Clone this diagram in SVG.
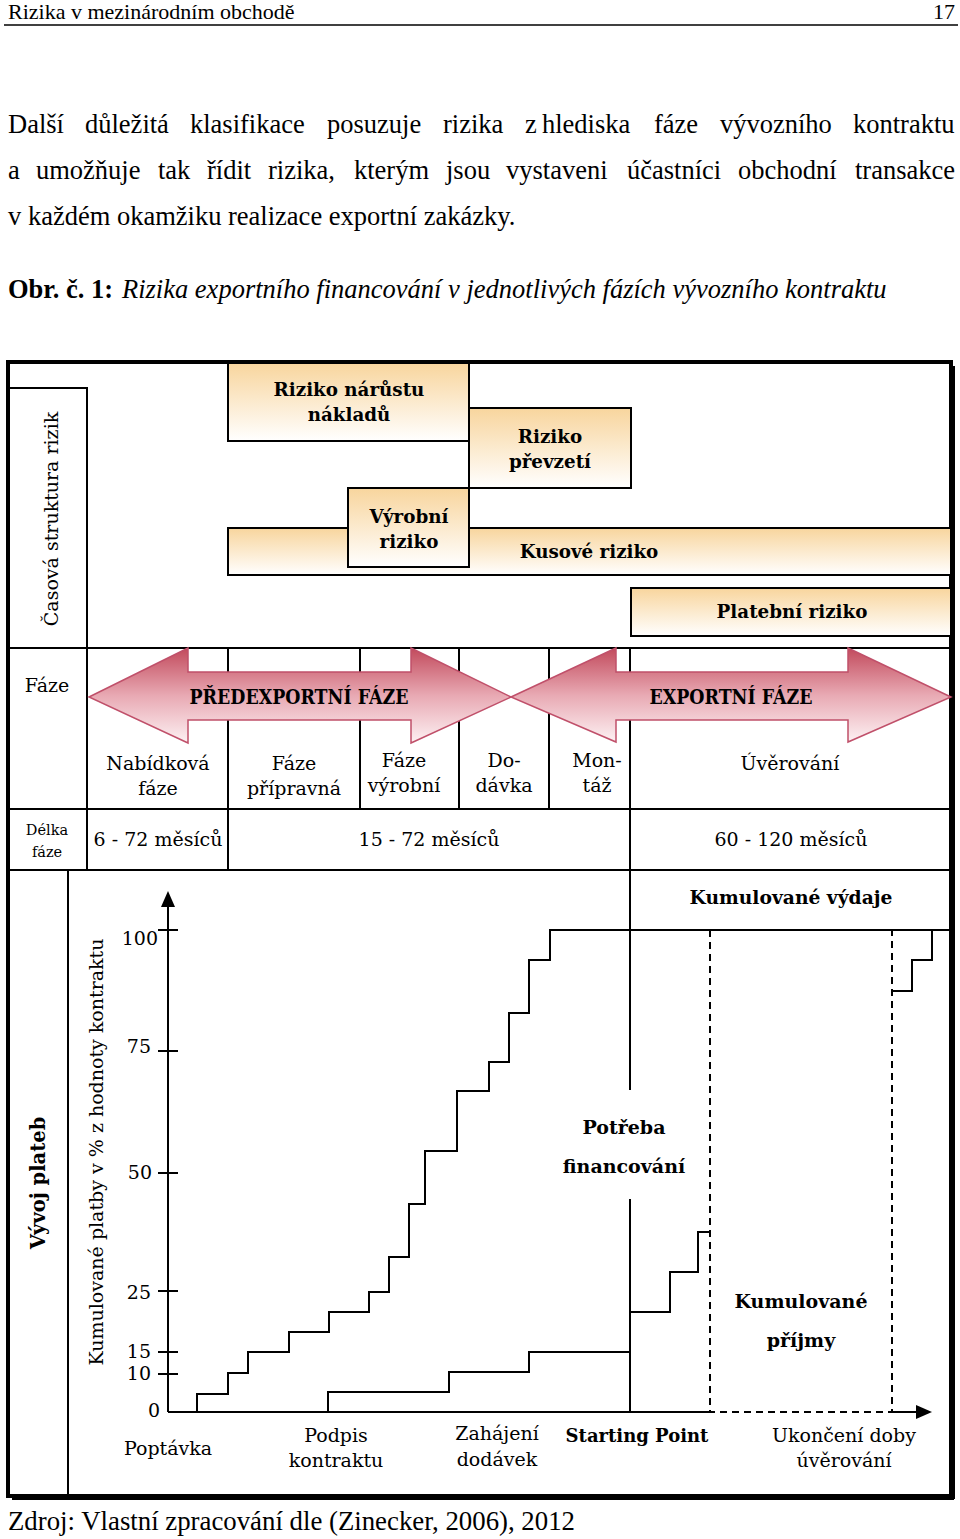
<svg xmlns="http://www.w3.org/2000/svg" width="960" height="1539" viewBox="0 0 960 1539">
<defs>
<linearGradient id="gOr" x1="0" y1="0" x2="0" y2="1">
<stop offset="0" stop-color="#f8d59d"/>
<stop offset="1" stop-color="#ffffff"/>
</linearGradient>
<linearGradient id="gRed" x1="0" y1="0" x2="0" y2="1">
<stop offset="0" stop-color="#c24a5c"/>
<stop offset="0.5" stop-color="#e8a9b3"/>
<stop offset="1" stop-color="#fdf1f3"/>
</linearGradient>
<style>
.pg{font-family:'Liberation Serif','Times New Roman',serif;fill:#000}
.d{font-family:'DejaVu Serif',serif;font-size:19px;fill:#000}
.b{font-weight:bold}
.bs{font-size:18.3px}
.as{font-size:19.5px}
.ls{font-size:19px}
.sm{font-size:14.5px}
.m{text-anchor:middle}
.e{text-anchor:end}
.ln{stroke:#000;stroke-width:2;fill:none}
.bx{fill:url(#gOr);stroke:#000;stroke-width:2}
.ar{fill:url(#gRed);stroke:#c0506a;stroke-width:1.5}
.dash{stroke:#000;stroke-width:2;fill:none;stroke-dasharray:7 5}
</style>
</defs>
<rect width="960" height="1539" fill="#fff"/>

<g id="page-header">
<text class="pg" x="8" y="19" font-size="22">Rizika v mezinárodním obchodě</text>
<text class="pg e" x="955" y="19" font-size="22">17</text>
<line x1="4" y1="25" x2="958" y2="25" stroke="#000" stroke-width="1.5"/>
</g>

<g id="paragraph" class="pg" font-size="26.5">
<text y="133"><tspan x="8">Další</tspan><tspan x="85">důležitá</tspan><tspan x="190">klasifikace</tspan><tspan x="327">posuzuje</tspan><tspan x="443">rizika</tspan><tspan x="525">z</tspan><tspan x="542">hlediska</tspan><tspan x="654">fáze</tspan><tspan x="720">vývozního</tspan><tspan x="853">kontraktu</tspan></text>
<text y="179"><tspan x="8">a</tspan><tspan x="36">umožňuje</tspan><tspan x="158">tak</tspan><tspan x="207">řídit</tspan><tspan x="268">rizika,</tspan><tspan x="354">kterým</tspan><tspan x="446">jsou</tspan><tspan x="506">vystaveni</tspan><tspan x="627">účastníci</tspan><tspan x="738">obchodní</tspan><tspan x="855">transakce</tspan></text>
<text x="8" y="225">v každém okamžiku realizace exportní zakázky.</text>
<text y="298"><tspan x="8" font-weight="bold">Obr. č. 1:</tspan><tspan x="122" font-style="italic">Rizika exportního financování v jednotlivých fázích vývozního kontraktu</tspan></text>
</g>

<g id="frame">
<line x1="12" y1="1499" x2="954" y2="1499" stroke="#000" stroke-width="2"/>
<line x1="954" y1="366" x2="954" y2="1499" stroke="#000" stroke-width="2"/>
<rect x="8" y="362" width="943" height="1134" fill="none" stroke="#000" stroke-width="4"/>
</g>

<g id="grid">
<path class="ln" d="M8,388 H87 V870"/>
<line class="ln" x1="8" y1="648" x2="951" y2="648"/>
<line class="ln" x1="8" y1="809" x2="951" y2="809"/>
<line class="ln" x1="8" y1="870" x2="951" y2="870"/>
<line class="ln" x1="228" y1="648" x2="228" y2="870"/>
<line class="ln" x1="360" y1="648" x2="360" y2="809"/>
<line class="ln" x1="459" y1="648" x2="459" y2="809"/>
<line class="ln" x1="549" y1="648" x2="549" y2="809"/>
<line class="ln" x1="630" y1="648" x2="630" y2="1090"/>
<line class="ln" x1="630" y1="1199" x2="630" y2="1412"/>
<line class="ln" x1="68" y1="870" x2="68" y2="1497"/>
</g>

<g id="label-casova">
<text class="d m" transform="rotate(-90 58 519)" x="58" y="519">Časová struktura rizik</text>
</g>

<g id="risk-naklady">
<rect class="bx" x="228" y="363" width="241" height="78"/>
<text class="d b bs m" x="349" y="396">Riziko nárůstu</text>
<text class="d b bs m" x="349" y="421">nákladů</text>
</g>
<g id="risk-prevzeti">
<rect class="bx" x="469" y="408" width="162" height="80"/>
<text class="d b bs m" x="550" y="443">Riziko</text>
<text class="d b bs m" x="550" y="468">převzetí</text>
</g>
<g id="risk-kusove">
<rect class="bx" x="228" y="528" width="723" height="47"/>
<text class="d b bs m" x="589" y="558">Kusové riziko</text>
</g>
<g id="risk-vyrobni">
<rect class="bx" x="348" y="488" width="121" height="79"/>
<text class="d b bs m" x="409" y="523">Výrobní</text>
<text class="d b bs m" x="409" y="548">riziko</text>
</g>
<g id="risk-platebni">
<rect class="bx" x="631" y="588" width="320" height="48"/>
<text class="d b bs m" x="792" y="618">Platební riziko</text>
</g>

<g id="row-faze">
<text class="d m" x="47" y="692">Fáze</text>
</g>
<g id="arrow-predexportni">
<polygon class="ar" points="89,697 188,648 188,672 411,672 411,648 511,697 411,743 411,720 188,720 188,743"/>
<text class="d b as m" x="299" y="704" textLength="219" lengthAdjust="spacingAndGlyphs">PŘEDEXPORTNÍ FÁZE</text>
</g>
<g id="arrow-exportni">
<polygon class="ar" points="511,697 616,648 616,672 848,672 848,648 951,697 848,742 848,720 616,720 616,742"/>
<text class="d b as m" x="731" y="704" textLength="163" lengthAdjust="spacingAndGlyphs">EXPORTNÍ FÁZE</text>
</g>

<g id="phases">
<text class="d m" x="158" y="770">Nabídková</text>
<text class="d m" x="158" y="795">fáze</text>
<text class="d m" x="294" y="770">Fáze</text>
<text class="d m" x="294" y="795">přípravná</text>
<text class="d m" x="404" y="767">Fáze</text>
<text class="d m" x="404" y="792">výrobní</text>
<text class="d m" x="504" y="767">Do-</text>
<text class="d m" x="504" y="792">dávka</text>
<text class="d m" x="597" y="767">Mon-</text>
<text class="d m" x="597" y="792">táž</text>
<text class="d m" x="790" y="770">Úvěrování</text>
</g>

<g id="row-delka">
<text class="d sm m" x="47" y="835">Délka</text>
<text class="d sm m" x="47" y="857">fáze</text>
<text class="d m" x="158" y="846">6 - 72 měsíců</text>
<text class="d m" x="429" y="846">15 - 72 měsíců</text>
<text class="d m" x="791" y="846">60 - 120 měsíců</text>
</g>

<g id="label-vyvoj">
<text class="d b m" transform="rotate(-90 45 1183)" x="45" y="1183" style="font-size:19.5px">Vývoj plateb</text>
</g>

<g id="y-axis">
<text class="d m" transform="rotate(-90 103 1152)" x="103" y="1152">Kumulované platby v % z hodnoty kontraktu</text>
<line class="ln" x1="168" y1="1412" x2="168" y2="905"/>
<polygon points="168,891 161,907 175,907" fill="#000"/>
<path class="ln" d="M158,930 H178 M158,1051 H178 M158,1173 H178 M158,1291 H178 M158,1352 H178 M158,1374 H178"/>
<text class="d e" x="158" y="945">100</text>
<text class="d e" x="151" y="1053">75</text>
<text class="d e" x="152" y="1179">50</text>
<text class="d e" x="151" y="1299">25</text>
<text class="d e" x="151" y="1358">15</text>
<text class="d e" x="151" y="1380">10</text>
<text class="d e" x="160" y="1417">0</text>
</g>

<g id="x-axis">
<line class="ln" x1="168" y1="1412" x2="710" y2="1412"/>
<line class="ln" x1="892" y1="1412" x2="918" y2="1412"/>
<polygon points="932,1412 916,1405 916,1419" fill="#000"/>
<text class="d m" x="168" y="1455">Poptávka</text>
<text class="d m" x="336" y="1442">Podpis</text>
<text class="d m" x="336" y="1467">kontraktu</text>
<text class="d m" x="497" y="1440">Zahájení</text>
<text class="d m" x="497" y="1466">dodávek</text>
<text class="d b m" x="637" y="1442" style="font-size:18px">Starting Point</text>
<text class="d m" x="844" y="1442">Ukončení doby</text>
<text class="d m" x="844" y="1467">úvěrování</text>
</g>

<g id="connectors">
<path id="vydaje-line" class="ln" d="M197,1412 V1394 H228 V1373 H248 V1352 H289 V1332 H329 V1312 H369 V1292 H389 V1257 H409 V1204 H425 V1151 H457 V1091 H489 V1062 H509 V1013 H529 V960 H550 V930 H951"/>
<path id="prijmy-line" class="ln" d="M328,1412 V1392 H449 V1372 H529 V1352 H630 M630,1312 H670 V1272 H698 V1232 H710"/>
<path id="prijmy-end" class="ln" d="M892,991 H912 V960 H932 V930"/>
<path id="credit-box" class="dash" d="M710,930 V1412 H892 V930"/>
</g>

<g id="label-vydaje">
<text class="d b m" x="791" y="904" style="font-size:18.7px">Kumulované výdaje</text>
</g>
<g id="label-potreba">
<text class="d b ls m" x="624" y="1134">Potřeba</text>
<text class="d b ls m" x="624" y="1173">financování</text>
</g>
<g id="label-prijmy">
<text class="d b ls m" x="801" y="1308">Kumulované</text>
<text class="d b ls m" x="801" y="1347">příjmy</text>
</g>

<g id="footer">
<text class="pg" x="8" y="1530" font-size="26.8">Zdroj: Vlastní zpracování dle (Zinecker, 2006), 2012</text>
</g>
</svg>
